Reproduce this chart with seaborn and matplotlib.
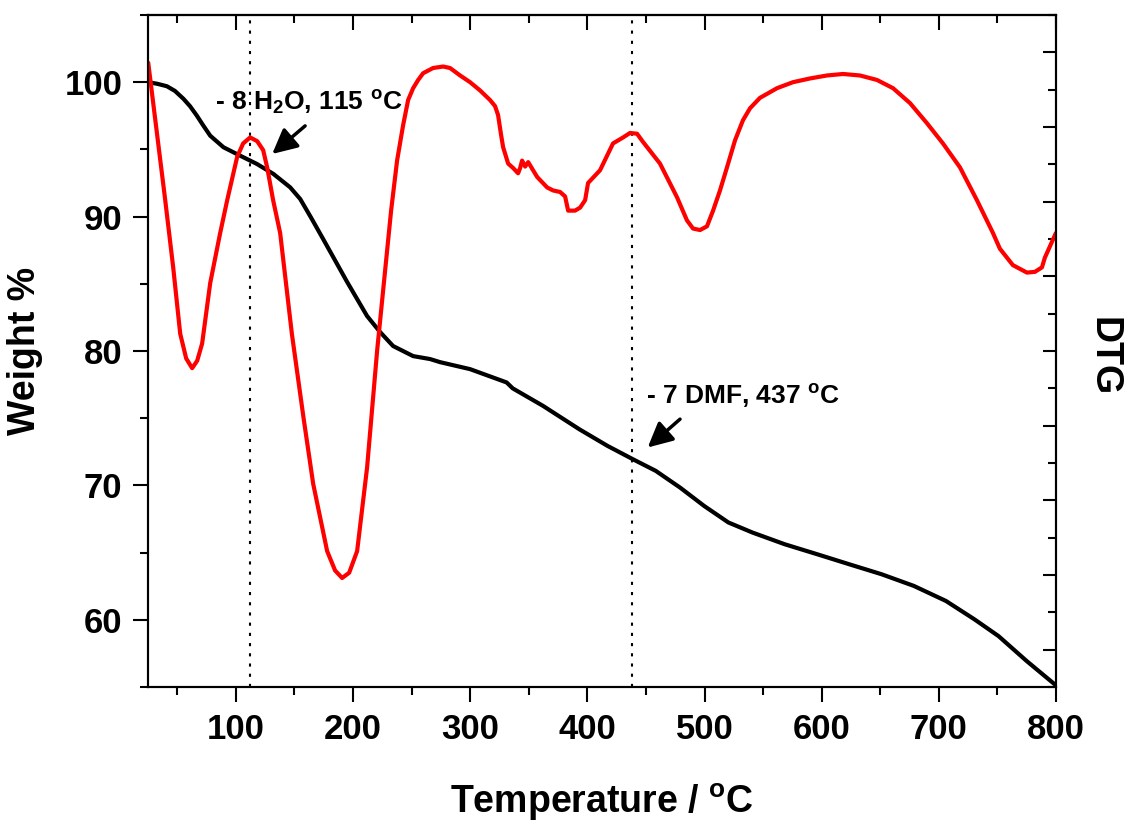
import numpy as np
import pandas as pd
import matplotlib
matplotlib.use("Agg")
import matplotlib.pyplot as plt
import seaborn as sns
from matplotlib.ticker import MultipleLocator

# ---------------- data ----------------
tga_temp = [25.2, 33.0, 41.1, 48.0, 55.3, 61.0, 66.7, 72.0, 78.1, 89.4, 103.7, 117.9,
            132.1, 146.3, 154.9, 164.0, 174.5, 195.0, 212.0, 223.1, 234.2, 251.3,
            265.8, 274.3, 299.9, 331.1, 336.3, 362.1, 393.1, 417.2, 438.8, 458.4,
            479.1, 499.7, 520.4, 541.0, 568.5, 596.1, 623.6, 651.1, 678.7, 706.1,
            730.3, 750.9, 775.0, 800.0]
tga_weight = [100.0, 99.88, 99.70, 99.35, 98.76, 98.20, 97.51, 96.80, 96.02, 95.16,
              94.53, 93.92, 93.17, 92.18, 91.31, 89.95, 88.33, 85.13, 82.60, 81.41,
              80.37, 79.62, 79.40, 79.17, 78.65, 77.66, 77.22, 75.92, 74.18, 72.94,
              71.95, 71.08, 69.84, 68.47, 67.24, 66.49, 65.62, 64.88, 64.13, 63.39,
              62.52, 61.40, 60.04, 58.79, 56.93, 55.12]

dtg_temp = [25.2, 39.7, 46.5, 52.5, 57.6, 62.7, 67.0, 71.2, 78.1, 86.6, 92.6,
            101.1, 106.2, 112.2, 118.2, 123.3, 126.7, 131.8, 137.8, 147.8, 157.7,
            166.0, 177.9, 184.7, 190.7, 196.7, 203.5, 212.0, 220.6, 227.4, 232.5,
            237.6, 242.7, 247.0, 251.3, 255.6, 259.8, 268.3, 276.9, 282.8, 291.4,
            299.9, 308.4, 317.0, 321.2, 323.8, 326.4, 328.1, 332.4, 336.7, 340.9,
            342.6, 344.3, 346.9, 349.5, 353.7, 357.2, 365.7, 370.8, 376.7, 381.0,
            383.6, 389.5, 393.8, 398.1, 400.6, 410.8, 421.9, 430.5, 436.4, 442.4,
            447.5, 462.0, 476.5, 485.0, 490.2, 496.2, 502.1, 507.3, 513.2, 519.2,
            526.0, 532.8, 538.8, 547.3, 561.9, 575.5, 590.0, 604.5, 618.2, 632.7,
            647.2, 660.9, 675.4, 689.9, 703.5, 718.0, 732.5, 746.2, 752.1, 763.2,
            775.2, 782.0, 788.0, 790.5, 799.9]
dtg_value = [7.86, 6.02, 5.12, 4.23, 3.90, 3.77, 3.87, 4.10, 4.91, 5.58, 6.02,
             6.60, 6.78, 6.86, 6.81, 6.69, 6.46, 6.02, 5.58, 4.23, 3.11,
             2.22, 1.32, 1.06, 0.96, 1.03, 1.32, 2.44, 4.01, 5.08, 5.88,
             6.55, 7.02, 7.36, 7.52, 7.63, 7.72, 7.79, 7.81, 7.79, 7.69,
             7.60, 7.49, 7.36, 7.28, 7.16, 6.89, 6.73, 6.51, 6.45, 6.38,
             6.45, 6.55, 6.47, 6.53, 6.42, 6.33, 6.19, 6.15, 6.13, 6.07,
             5.88, 5.88, 5.92, 6.02, 6.25, 6.42, 6.78, 6.86, 6.92, 6.91,
             6.80, 6.51, 6.06, 5.75, 5.64, 5.62, 5.67, 5.88, 6.15, 6.46,
             6.82, 7.09, 7.25, 7.39, 7.52, 7.60, 7.65, 7.69, 7.71, 7.69,
             7.63, 7.52, 7.32, 7.05, 6.78, 6.46, 6.02, 5.58, 5.37, 5.15,
             5.05, 5.06, 5.12, 5.25, 5.58]

x_major_ticks = [100, 200, 300, 400, 500, 600, 700, 800]
y_major_ticks = [60, 70, 80, 90, 100]

guide_temps = [112, 438]
note1_text = r'- 8 H$_\mathrm{2}$O, 115 $^\mathrm{o}$C'
note1_pos = (82.3, 97.86)
note1_arrow_tail = (159.1, 96.75)
note1_arrow_head = (131.0, 94.66)
note2_text = r'- 7 DMF, 437 $^\mathrm{o}$C'
note2_pos = (449.8, 76.05)
note2_arrow_tail = (479.1, 74.93)
note2_arrow_head = (451.5, 72.82)

tga_df = pd.DataFrame({"Temperature": tga_temp, "Weight": tga_weight})
dtg_df = pd.DataFrame({"Temperature": dtg_temp, "DTG": dtg_value})

# ---------------- style ----------------
sns.set_style("ticks")
plt.rcParams.update({
    "font.family": ["Liberation Sans", "DejaVu Sans"],
    "font.weight": "bold",
    "axes.labelweight": "bold",
    "mathtext.fontset": "custom",
    "mathtext.rm": "Liberation Sans:bold",
    "mathtext.bf": "Liberation Sans:bold",
    "mathtext.it": "Liberation Sans:bold",
    "axes.edgecolor": "black",
    "text.color": "black",
    "axes.labelcolor": "black",
    "xtick.color": "black",
    "ytick.color": "black",
    "axes.linewidth": 1.5,
    "lines.solid_joinstyle": "round",
})

W, H = 1126, 823
fig = plt.figure(figsize=(W / 100, H / 100), dpi=100)
L, R, T, B = 148, 1056, 15, 687
ax = fig.add_axes([L / W, 1 - B / H, (R - L) / W, (B - T) / H])

sns.lineplot(data=tga_df, x="Temperature", y="Weight", ax=ax, color="black",
             lw=3, estimator=None, legend=False)
for t in guide_temps:
    ax.axvline(t, color="black", lw=1.5, ls=(0, (1.5, 3.4)), zorder=1)

ax.set_xlim(25, 800)
ax.set_ylim(55, 105)
ax.set_xticks(x_major_ticks)
ax.set_yticks(y_major_ticks)
ax.xaxis.set_minor_locator(MultipleLocator(50))
ax.yaxis.set_minor_locator(MultipleLocator(5))
ax.tick_params(which="both", direction="out", width=1.5, labelsize=25)
ax.tick_params(which="major", length=10.5)
ax.tick_params(which="minor", length=5.5)
ax.tick_params(axis="x", pad=8)
ax.tick_params(axis="y", pad=8)
for lab in ax.get_xticklabels() + ax.get_yticklabels():
    lab.set_fontweight("bold")

ax.set_xlabel(r'Temperature / $^\mathrm{o}$C', fontsize=27, fontweight="bold")
ax.xaxis.set_label_coords(0.5, (B - 782) / (B - T))
ax.set_ylabel("Weight %", fontsize=27, fontweight="bold")
ax.yaxis.set_label_coords((43 - L) / (R - L), 0.5)

# top ticks (inward, no labels)
sec = ax.secondary_xaxis("top")
sec.xaxis.set_major_locator(MultipleLocator(100))
sec.xaxis.set_minor_locator(MultipleLocator(50))
sec.tick_params(which="both", direction="in", width=1.5, labeltop=False)
sec.tick_params(which="major", length=10.5)
sec.tick_params(which="minor", length=5.5)
sec.spines["top"].set_linewidth(1.5)

# DTG on a twin axis
ax2 = ax.twinx()
sns.lineplot(data=dtg_df, x="Temperature", y="DTG", ax=ax2, color="#ff0000",
             lw=3, estimator=None, legend=False)
ax2.set_ylim(-0.5, 8.5)
ax2.yaxis.set_major_locator(MultipleLocator(1))
ax2.yaxis.set_minor_locator(MultipleLocator(0.5))
ax2.tick_params(axis="y", which="both", direction="in", width=1.5, labelright=False)
ax2.tick_params(axis="y", which="major", length=9.5)
ax2.tick_params(axis="y", which="minor", length=5.5)
ax2.set_ylabel("")
ax2.set_xlim(25, 800)
for s in ax2.spines.values():
    s.set_linewidth(1.5)

fig.text(1104 / W, 1 - 357 / H, "DTG", rotation=-90, ha="center", va="center",
         fontsize=27, fontweight="bold")

# annotations (drawn above both curves)
arrow_kw = dict(arrowstyle="-|>,head_length=0.5,head_width=0.25", color="black",
                lw=2.5, mutation_scale=30, shrinkA=0, shrinkB=0)
ax2.annotate("", xy=note1_arrow_head, xytext=note1_arrow_tail,
             xycoords=ax.transData, textcoords=ax.transData, arrowprops=arrow_kw)
ax2.annotate("", xy=note2_arrow_head, xytext=note2_arrow_tail,
             xycoords=ax.transData, textcoords=ax.transData, arrowprops=arrow_kw)
ax2.text(*note1_pos, note1_text, transform=ax.transData, fontsize=19,
         fontweight="bold", ha="left", va="baseline")
ax2.text(*note2_pos, note2_text, transform=ax.transData, fontsize=19,
         fontweight="bold", ha="left", va="baseline")

fig.savefig("out.png", dpi=100)
